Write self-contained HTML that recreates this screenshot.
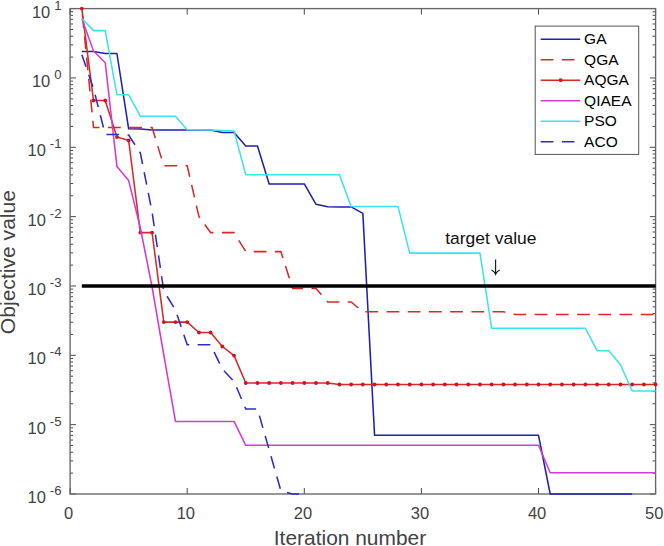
<!DOCTYPE html>
<html><head><meta charset="utf-8"><style>
html,body{margin:0;padding:0;background:#fff;}
svg{display:block;font-family:"Liberation Sans",sans-serif;}
</style></head><body>
<svg width="664" height="546" viewBox="0 0 664 546">
<rect width="664" height="546" fill="#fff"/>
<path d="M70.10,494.00 v-6 M70.10,8.60 v6 M187.20,494.00 v-6 M187.20,8.60 v6 M304.30,494.00 v-6 M304.30,8.60 v6 M421.40,494.00 v-6 M421.40,8.60 v6 M538.50,494.00 v-6 M538.50,8.60 v6 M655.60,494.00 v-6 M655.60,8.60 v6 M70.10,494.00 h5.8 M655.60,494.00 h-5.8 M70.10,473.13 h3.0 M655.60,473.13 h-3.0 M70.10,460.92 h3.0 M655.60,460.92 h-3.0 M70.10,452.25 h3.0 M655.60,452.25 h-3.0 M70.10,445.53 h3.0 M655.60,445.53 h-3.0 M70.10,440.04 h3.0 M655.60,440.04 h-3.0 M70.10,435.40 h3.0 M655.60,435.40 h-3.0 M70.10,431.38 h3.0 M655.60,431.38 h-3.0 M70.10,427.83 h3.0 M655.60,427.83 h-3.0 M70.10,424.66 h5.8 M655.60,424.66 h-5.8 M70.10,403.78 h3.0 M655.60,403.78 h-3.0 M70.10,391.57 h3.0 M655.60,391.57 h-3.0 M70.10,382.91 h3.0 M655.60,382.91 h-3.0 M70.10,376.19 h3.0 M655.60,376.19 h-3.0 M70.10,370.70 h3.0 M655.60,370.70 h-3.0 M70.10,366.06 h3.0 M655.60,366.06 h-3.0 M70.10,362.03 h3.0 M655.60,362.03 h-3.0 M70.10,358.49 h3.0 M655.60,358.49 h-3.0 M70.10,355.31 h5.8 M655.60,355.31 h-5.8 M70.10,334.44 h3.0 M655.60,334.44 h-3.0 M70.10,322.23 h3.0 M655.60,322.23 h-3.0 M70.10,313.57 h3.0 M655.60,313.57 h-3.0 M70.10,306.85 h3.0 M655.60,306.85 h-3.0 M70.10,301.36 h3.0 M655.60,301.36 h-3.0 M70.10,296.71 h3.0 M655.60,296.71 h-3.0 M70.10,292.69 h3.0 M655.60,292.69 h-3.0 M70.10,289.14 h3.0 M655.60,289.14 h-3.0 M70.10,285.97 h5.8 M655.60,285.97 h-5.8 M70.10,265.10 h3.0 M655.60,265.10 h-3.0 M70.10,252.89 h3.0 M655.60,252.89 h-3.0 M70.10,244.22 h3.0 M655.60,244.22 h-3.0 M70.10,237.50 h3.0 M655.60,237.50 h-3.0 M70.10,232.01 h3.0 M655.60,232.01 h-3.0 M70.10,227.37 h3.0 M655.60,227.37 h-3.0 M70.10,223.35 h3.0 M655.60,223.35 h-3.0 M70.10,219.80 h3.0 M655.60,219.80 h-3.0 M70.10,216.63 h5.8 M655.60,216.63 h-5.8 M70.10,195.75 h3.0 M655.60,195.75 h-3.0 M70.10,183.54 h3.0 M655.60,183.54 h-3.0 M70.10,174.88 h3.0 M655.60,174.88 h-3.0 M70.10,168.16 h3.0 M655.60,168.16 h-3.0 M70.10,162.67 h3.0 M655.60,162.67 h-3.0 M70.10,158.03 h3.0 M655.60,158.03 h-3.0 M70.10,154.01 h3.0 M655.60,154.01 h-3.0 M70.10,150.46 h3.0 M655.60,150.46 h-3.0 M70.10,147.29 h5.8 M655.60,147.29 h-5.8 M70.10,126.41 h3.0 M655.60,126.41 h-3.0 M70.10,114.20 h3.0 M655.60,114.20 h-3.0 M70.10,105.54 h3.0 M655.60,105.54 h-3.0 M70.10,98.82 h3.0 M655.60,98.82 h-3.0 M70.10,93.33 h3.0 M655.60,93.33 h-3.0 M70.10,88.68 h3.0 M655.60,88.68 h-3.0 M70.10,84.66 h3.0 M655.60,84.66 h-3.0 M70.10,81.12 h3.0 M655.60,81.12 h-3.0 M70.10,77.94 h5.8 M655.60,77.94 h-5.8 M70.10,57.07 h3.0 M655.60,57.07 h-3.0 M70.10,44.86 h3.0 M655.60,44.86 h-3.0 M70.10,36.19 h3.0 M655.60,36.19 h-3.0 M70.10,29.47 h3.0 M655.60,29.47 h-3.0 M70.10,23.98 h3.0 M655.60,23.98 h-3.0 M70.10,19.34 h3.0 M655.60,19.34 h-3.0 M70.10,15.32 h3.0 M655.60,15.32 h-3.0 M70.10,11.77 h3.0 M655.60,11.77 h-3.0 M70.10,8.60 h5.8 M655.60,8.60 h-5.8" stroke="#4a4a4a" stroke-width="1" fill="none"/>
<rect x="70.10" y="8.60" width="585.50" height="485.40" fill="none" stroke="#666" stroke-width="1.35"/>
<path d="M81.81,51.40 L93.52,51.40 L105.23,53.50 L116.94,53.50 L128.65,128.80 L140.36,129.00 L152.07,130.00 L163.78,130.00 L175.49,130.00 L187.20,130.00 L198.91,130.00 L210.62,130.00 L222.33,132.50 L234.04,132.50 L245.75,145.90 L257.46,145.90 L269.17,183.90 L280.88,183.90 L292.59,183.90 L304.30,183.90 L316.01,204.30 L327.72,206.70 L339.43,206.90 L351.14,206.90 L362.85,213.40 L374.56,435.30 L386.27,435.30 L397.98,435.30 L409.69,435.30 L421.40,435.30 L433.11,435.30 L444.82,435.30 L456.53,435.30 L468.24,435.30 L479.95,435.30 L491.66,435.30 L503.37,435.30 L515.08,435.30 L526.79,435.30 L538.50,435.30 L550.21,494.00 L561.92,494.00 L573.63,494.00 L585.34,494.00 L597.05,494.00 L608.76,494.00 L620.47,494.00 L632.18,494.00" stroke="#2020b0" stroke-width="1.55" fill="none" stroke-linejoin="round"/>
<path d="M81.81,8.60 L93.52,127.50 L105.23,127.50 L116.94,127.50 L128.65,127.50 L140.36,127.50 L152.07,127.50 L163.78,165.80 L175.49,165.80 L187.20,165.80 L198.91,216.50 L210.62,232.60 L222.33,232.60 L234.04,232.60 L245.75,251.60 L257.46,251.60 L269.17,251.60 L280.88,251.60 L292.59,288.50 L304.30,288.50 L316.01,288.50 L327.72,302.00 L339.43,302.00 L351.14,302.00 L362.85,311.80 L374.56,311.80 L386.27,311.80 L397.98,311.80 L409.69,311.80 L421.40,311.80 L433.11,311.80 L444.82,311.80 L456.53,311.80 L468.24,311.80 L479.95,311.80 L491.66,311.80 L503.37,311.80 L515.08,314.40 L526.79,314.40 L538.50,314.40 L550.21,314.40 L561.92,314.40 L573.63,314.40 L585.34,314.40 L597.05,314.40 L608.76,314.40 L620.47,314.40 L632.18,314.40 L643.89,314.40 L655.60,314.40" stroke="#d42a2a" stroke-width="1.55" fill="none" stroke-dasharray="12.8 8.4" stroke-dashoffset="14.5"/>
<path d="M81.81,8.60 L93.52,100.50 L105.23,100.50 L116.94,137.10 L128.65,140.50 L140.36,232.60 L152.07,232.60 L163.78,322.10 L175.49,322.10 L187.20,322.10 L198.91,332.50 L210.62,332.50 L222.33,346.50 L234.04,355.60 L245.75,383.00 L257.46,383.00 L269.17,383.00 L280.88,383.00 L292.59,383.00 L304.30,383.00 L316.01,383.00 L327.72,383.00 L339.43,384.50 L351.14,384.50 L362.85,384.50 L374.56,384.50 L386.27,384.50 L397.98,384.50 L409.69,384.50 L421.40,384.50 L433.11,384.50 L444.82,384.50 L456.53,384.50 L468.24,384.50 L479.95,384.50 L491.66,384.50 L503.37,384.50 L515.08,384.50 L526.79,384.50 L538.50,384.50 L550.21,384.50 L561.92,384.50 L573.63,384.50 L585.34,384.50 L597.05,384.50 L608.76,384.50 L620.47,384.50 L632.18,384.50 L643.89,384.50 L655.60,384.50" stroke="#d42a2a" stroke-width="1.55" fill="none" stroke-linejoin="round"/>
<circle cx="81.81" cy="8.60" r="1.9" fill="#d8101c"/>
<circle cx="93.52" cy="100.50" r="1.9" fill="#d8101c"/>
<circle cx="105.23" cy="100.50" r="1.9" fill="#d8101c"/>
<circle cx="116.94" cy="137.10" r="1.9" fill="#d8101c"/>
<circle cx="128.65" cy="140.50" r="1.9" fill="#d8101c"/>
<circle cx="140.36" cy="232.60" r="1.9" fill="#d8101c"/>
<circle cx="152.07" cy="232.60" r="1.9" fill="#d8101c"/>
<circle cx="163.78" cy="322.10" r="1.9" fill="#d8101c"/>
<circle cx="175.49" cy="322.10" r="1.9" fill="#d8101c"/>
<circle cx="187.20" cy="322.10" r="1.9" fill="#d8101c"/>
<circle cx="198.91" cy="332.50" r="1.9" fill="#d8101c"/>
<circle cx="210.62" cy="332.50" r="1.9" fill="#d8101c"/>
<circle cx="222.33" cy="346.50" r="1.9" fill="#d8101c"/>
<circle cx="234.04" cy="355.60" r="1.9" fill="#d8101c"/>
<circle cx="245.75" cy="383.00" r="1.9" fill="#d8101c"/>
<circle cx="257.46" cy="383.00" r="1.9" fill="#d8101c"/>
<circle cx="269.17" cy="383.00" r="1.9" fill="#d8101c"/>
<circle cx="280.88" cy="383.00" r="1.9" fill="#d8101c"/>
<circle cx="292.59" cy="383.00" r="1.9" fill="#d8101c"/>
<circle cx="304.30" cy="383.00" r="1.9" fill="#d8101c"/>
<circle cx="316.01" cy="383.00" r="1.9" fill="#d8101c"/>
<circle cx="327.72" cy="383.00" r="1.9" fill="#d8101c"/>
<circle cx="339.43" cy="384.50" r="1.9" fill="#d8101c"/>
<circle cx="351.14" cy="384.50" r="1.9" fill="#d8101c"/>
<circle cx="362.85" cy="384.50" r="1.9" fill="#d8101c"/>
<circle cx="374.56" cy="384.50" r="1.9" fill="#d8101c"/>
<circle cx="386.27" cy="384.50" r="1.9" fill="#d8101c"/>
<circle cx="397.98" cy="384.50" r="1.9" fill="#d8101c"/>
<circle cx="409.69" cy="384.50" r="1.9" fill="#d8101c"/>
<circle cx="421.40" cy="384.50" r="1.9" fill="#d8101c"/>
<circle cx="433.11" cy="384.50" r="1.9" fill="#d8101c"/>
<circle cx="444.82" cy="384.50" r="1.9" fill="#d8101c"/>
<circle cx="456.53" cy="384.50" r="1.9" fill="#d8101c"/>
<circle cx="468.24" cy="384.50" r="1.9" fill="#d8101c"/>
<circle cx="479.95" cy="384.50" r="1.9" fill="#d8101c"/>
<circle cx="491.66" cy="384.50" r="1.9" fill="#d8101c"/>
<circle cx="503.37" cy="384.50" r="1.9" fill="#d8101c"/>
<circle cx="515.08" cy="384.50" r="1.9" fill="#d8101c"/>
<circle cx="526.79" cy="384.50" r="1.9" fill="#d8101c"/>
<circle cx="538.50" cy="384.50" r="1.9" fill="#d8101c"/>
<circle cx="550.21" cy="384.50" r="1.9" fill="#d8101c"/>
<circle cx="561.92" cy="384.50" r="1.9" fill="#d8101c"/>
<circle cx="573.63" cy="384.50" r="1.9" fill="#d8101c"/>
<circle cx="585.34" cy="384.50" r="1.9" fill="#d8101c"/>
<circle cx="597.05" cy="384.50" r="1.9" fill="#d8101c"/>
<circle cx="608.76" cy="384.50" r="1.9" fill="#d8101c"/>
<circle cx="620.47" cy="384.50" r="1.9" fill="#d8101c"/>
<circle cx="632.18" cy="384.50" r="1.9" fill="#d8101c"/>
<circle cx="643.89" cy="384.50" r="1.9" fill="#d8101c"/>
<circle cx="655.60" cy="384.50" r="1.9" fill="#d8101c"/>
<path d="M81.81,18.55 L93.52,51.00 L105.23,62.70 L116.94,166.40 L128.65,180.60 L140.36,228.00 L152.07,287.00 L163.78,355.00 L175.49,421.40 L187.20,421.40 L198.91,421.40 L210.62,421.40 L222.33,421.40 L234.04,421.40 L245.75,445.30 L257.46,445.30 L269.17,445.30 L280.88,445.30 L292.59,445.30 L304.30,445.30 L316.01,445.30 L327.72,445.30 L339.43,445.30 L351.14,445.30 L362.85,445.30 L374.56,445.30 L386.27,445.30 L397.98,445.30 L409.69,445.30 L421.40,445.30 L433.11,445.30 L444.82,445.30 L456.53,445.30 L468.24,445.30 L479.95,445.30 L491.66,445.30 L503.37,445.30 L515.08,445.30 L526.79,445.30 L538.50,445.30 L550.21,472.80 L561.92,472.80 L573.63,472.80 L585.34,472.80 L597.05,472.80 L608.76,472.80 L620.47,472.80 L632.18,472.80 L643.89,472.80 L655.60,472.80" stroke="#d23cd2" stroke-width="1.55" fill="none" stroke-linejoin="round"/>
<path d="M81.81,18.55 L93.52,30.60 L105.23,30.60 L116.94,94.80 L128.65,94.80 L140.36,116.20 L152.07,116.20 L163.78,116.20 L175.49,116.20 L187.20,129.80 L198.91,129.80 L210.62,129.90 L222.33,130.50 L234.04,130.90 L245.75,174.80 L257.46,174.80 L269.17,174.80 L280.88,174.80 L292.59,174.80 L304.30,174.80 L316.01,174.80 L327.72,174.80 L339.43,174.80 L351.14,206.40 L362.85,206.40 L374.56,206.40 L386.27,206.40 L397.98,206.40 L409.69,253.10 L421.40,253.10 L433.11,253.10 L444.82,253.10 L456.53,253.10 L468.24,253.10 L479.95,253.10 L491.66,328.20 L503.37,328.20 L515.08,328.20 L526.79,328.20 L538.50,328.20 L550.21,328.20 L561.92,328.20 L573.63,328.20 L585.34,328.20 L597.05,350.70 L608.76,350.70 L620.47,364.70 L632.18,391.00 L643.89,391.00 L655.60,391.00" stroke="#3ee2ec" stroke-width="1.55" fill="none" stroke-linejoin="round"/>
<path d="M81.81,54.65 L93.52,88.50 L105.23,134.50 L116.94,134.50 L128.65,135.00 L140.36,153.00 L152.07,212.00 L163.78,291.00 L175.49,310.00 L187.20,344.80 L198.91,344.80 L210.62,344.80 L222.33,369.00 L234.04,381.50 L245.75,408.90 L257.46,408.90 L269.17,449.80 L280.88,490.80 L292.59,494.00 L299.00,494.00" stroke="#2e2cc4" stroke-width="1.55" fill="none" stroke-dasharray="12.7 8.4" stroke-dashoffset="21.0"/>
<path d="M81.81,286 H655.60" stroke="#000" stroke-width="3.5"/>
<text transform="translate(445.2,243.5) scale(1.04,1)" font-size="16.8" fill="#111">target value</text>
<path d="M495.6,259.4 V273.8 M491.4,270.1 Q494.3,271.1 495.6,274.4 Q496.9,271.1 499.9,270.1" stroke="#111" stroke-width="1.1" fill="none"/>
<rect x="535.2" y="26.1" width="103.5" height="128.3" fill="#fff" stroke="#555" stroke-width="1"/>
<path d="M540.7,39.20 H580.2" stroke="#2020b0" stroke-width="1.55"/>
<text transform="translate(584.1,44.10) scale(1.0,1)" font-size="15.5" fill="#000">GA</text>
<path d="M540.7,59.70 H579.5" stroke="#d42a2a" stroke-width="1.55" stroke-dasharray="12.7 8.4"/>
<text transform="translate(584.1,64.60) scale(1.0,1)" font-size="15.5" fill="#000">QGA</text>
<path d="M540.7,80.20 H580.2" stroke="#d42a2a" stroke-width="1.55"/>
<circle cx="560.6" cy="80.20" r="1.9" fill="#d8101c"/>
<text transform="translate(584.1,85.10) scale(1.0,1)" font-size="15.5" fill="#000">AQGA</text>
<path d="M540.7,100.70 H580.2" stroke="#d23cd2" stroke-width="1.55"/>
<text transform="translate(584.1,105.60) scale(1.0,1)" font-size="15.5" fill="#000">QIAEA</text>
<path d="M540.7,121.20 H580.2" stroke="#3ee2ec" stroke-width="1.55"/>
<text transform="translate(584.1,126.10) scale(1.0,1)" font-size="15.5" fill="#000">PSO</text>
<path d="M540.7,141.70 H579.5" stroke="#2e2cc4" stroke-width="1.55" stroke-dasharray="12.7 8.4"/>
<text transform="translate(584.1,146.60) scale(1.0,1)" font-size="15.5" fill="#000">ACO</text>
<text transform="translate(68.70,518.7)" text-anchor="middle" font-size="16.5" fill="#424242">0</text>
<text transform="translate(185.80,518.7)" text-anchor="middle" font-size="16.5" fill="#424242">10</text>
<text transform="translate(302.90,518.7)" text-anchor="middle" font-size="16.5" fill="#424242">20</text>
<text transform="translate(420.00,518.7)" text-anchor="middle" font-size="16.5" fill="#424242">30</text>
<text transform="translate(537.10,518.7)" text-anchor="middle" font-size="16.5" fill="#424242">40</text>
<text transform="translate(654.20,518.7)" text-anchor="middle" font-size="16.5" fill="#424242">50</text>
<text transform="translate(61.6,502.90)" text-anchor="end" font-size="16.5" fill="#424242">10<tspan dx="4" dy="-7.8" font-size="13.2">-6</tspan></text>
<text transform="translate(61.6,433.56)" text-anchor="end" font-size="16.5" fill="#424242">10<tspan dx="4" dy="-7.8" font-size="13.2">-5</tspan></text>
<text transform="translate(61.6,364.21)" text-anchor="end" font-size="16.5" fill="#424242">10<tspan dx="4" dy="-7.8" font-size="13.2">-4</tspan></text>
<text transform="translate(61.6,294.87)" text-anchor="end" font-size="16.5" fill="#424242">10<tspan dx="4" dy="-7.8" font-size="13.2">-3</tspan></text>
<text transform="translate(61.6,225.53)" text-anchor="end" font-size="16.5" fill="#424242">10<tspan dx="4" dy="-7.8" font-size="13.2">-2</tspan></text>
<text transform="translate(61.6,156.19)" text-anchor="end" font-size="16.5" fill="#424242">10<tspan dx="4" dy="-7.8" font-size="13.2">-1</tspan></text>
<text transform="translate(61.6,86.84)" text-anchor="end" font-size="16.5" fill="#424242">10<tspan dx="4" dy="-7.8" font-size="13.2">0</tspan></text>
<text transform="translate(61.6,17.50)" text-anchor="end" font-size="16.5" fill="#424242">10<tspan dx="4" dy="-7.8" font-size="13.2">1</tspan></text>
<text transform="translate(350,544.8) scale(1.047,1)" text-anchor="middle" font-size="20" fill="#424242">Iteration number</text>
<text transform="translate(15.2,262.1) rotate(-90) scale(1.055,1)" text-anchor="middle" font-size="20" fill="#424242">Objective value</text>
</svg>
</body></html>
